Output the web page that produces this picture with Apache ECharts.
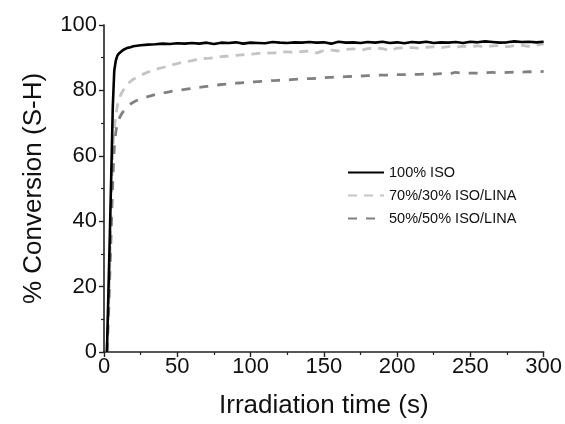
<!DOCTYPE html>
<html>
<head>
<meta charset="utf-8">
<script src="https://cdn.jsdelivr.net/npm/echarts@6/dist/echarts.min.js"></script>
<style>html,body{margin:0;padding:0;background:#fff}#c{width:565px;height:424px}</style>
</head>
<body>
<div id="c"></div>
<script>
const times = [2,3,4,5,6,7,8,9,10,12,14,16,18,20,25,30,35,40,45,50,55,60,65,70,75,80,85,90,95,100,105,110,115,120,125,130,135,140,145,150,155,160,165,170,175,180,185,190,195,200,205,210,215,220,225,230,235,240,245,250,255,260,265,270,275,280,285,290,295,300];
const iso100 = [0,18,36,55,75,86,89,90.5,91.2,92,92.6,93,93.2,93.5,93.8,94,94.1,94.3,94.2,94.4,94.3,94.5,94.3,94.6,94.2,94.6,94.5,94.7,94.3,94.6,94.5,94.4,94.8,94.6,94.5,94.7,94.6,94.8,94.6,94.7,94.3,94.9,94.6,94.7,94.5,94.8,94.6,94.9,94.5,94.7,94.4,94.8,94.6,94.9,94.5,94.7,94.6,94.8,94.5,94.9,94.7,95.0,94.8,94.6,94.7,95.0,94.8,94.9,94.7,94.9];
const iso70 = [0,12,28,45,62,68,72,75,77,79.2,80.6,81.8,82.7,83.4,84.6,85.6,86.4,87,87.6,88.2,88.7,89.1,89.5,89.8,90,90.3,90.5,90.7,90.9,91.1,91.3,91.5,91.4,91.7,91.8,91.6,91.9,92,91.5,92.2,92.3,92.1,92.5,92.7,92.3,92.8,92.9,92.8,92.2,92.9,93,93.1,92.9,93.2,93.3,93.1,93.4,93.2,93.5,93.4,93.6,93.3,93.6,93.7,93.4,93.7,93.8,93.5,93.8,94.2];
const iso50 = [0,10,24,38,52,62,67,69.5,71,72.8,74,75,75.8,76.4,77.4,78.1,78.7,79.2,79.6,80,80.3,80.6,80.9,81.2,81.5,81.8,82,82.2,82.4,82.5,82.7,82.8,83,83.1,83.2,83.4,83.5,83.6,83.7,83.9,84,84.1,84.2,84.3,84.4,84.5,84.6,84.7,84.7,84.8,84.8,84.9,84.9,85,85,85.1,85.1,85.5,85.2,85.3,85.3,85.4,85.5,85.4,85.5,85.6,85.6,85.7,85.7,85.8];
const xTicks = [0,50,100,150,200,250,300];
const yTicks = [0,20,40,60,80,100];
const seriesNames = ['100% ISO','70%/30% ISO/LINA','50%/50% ISO/LINA'];

const mk = a => times.map((t,i)=>[t,a[i]]);
const chart = echarts.init(document.getElementById('c'));
const font = 'Liberation Sans, Arial, sans-serif';
chart.setOption({
  animation:false,
  backgroundColor:'#fff',
  grid:{left:104,right:18,top:25,bottom:70,containLabel:false},
  legend:{
    orient:'vertical', left:342, top:160, itemWidth:36, itemHeight:14, itemGap:8,
    itemStyle:{opacity:0},
    textStyle:{fontFamily:font,fontSize:14.5,color:'#111',padding:[0,0,0,0]},
    data:seriesNames
  },
  xAxis:{
    type:'value',min:xTicks[0],max:xTicks[xTicks.length-1],interval:50,
    name:'Irradiation time (s)',nameLocation:'middle',nameGap:41,
    nameTextStyle:{fontFamily:font,fontSize:26,color:'#111'},
    axisLine:{lineStyle:{color:'#222',width:1.6}},
    axisTick:{show:true,length:5,lineStyle:{color:'#222',width:1.4}},
    minorTick:{show:true,splitNumber:2,length:3,lineStyle:{color:'#222',width:1.2}},
    axisLabel:{fontFamily:font,fontSize:22,color:'#111',margin:4},
    splitLine:{show:false}
  },
  yAxis:{
    type:'value',min:yTicks[0],max:yTicks[yTicks.length-1],interval:20,
    name:'% Conversion (S-H)',nameLocation:'middle',nameGap:57,
    nameTextStyle:{fontFamily:font,fontSize:26,color:'#111'},
    axisLine:{show:true,lineStyle:{color:'#222',width:1.6}},
    axisTick:{show:true,length:5,lineStyle:{color:'#222',width:1.4}},
    minorTick:{show:true,splitNumber:2,length:3,lineStyle:{color:'#222',width:1.2}},
    axisLabel:{fontFamily:font,fontSize:22,color:'#111',margin:7},
    splitLine:{show:false}
  },
  series:[
    {name:seriesNames[0],type:'line',data:mk(iso100),showSymbol:false,symbol:'none',z:5,
     lineStyle:{color:'#000',width:2.6},itemStyle:{color:'#000'}},
    {name:seriesNames[1],type:'line',data:mk(iso70),showSymbol:false,symbol:'none',z:3,smooth:0.3,
     lineStyle:{color:'#c4c4c4',width:2.8,type:[9,7]},itemStyle:{color:'#c4c4c4'}},
    {name:seriesNames[2],type:'line',data:mk(iso50),showSymbol:false,symbol:'none',z:4,smooth:0.3,
     lineStyle:{color:'#808080',width:2.8,type:[9,9]},itemStyle:{color:'#808080'}}
  ]
});
</script>
</body>
</html>
